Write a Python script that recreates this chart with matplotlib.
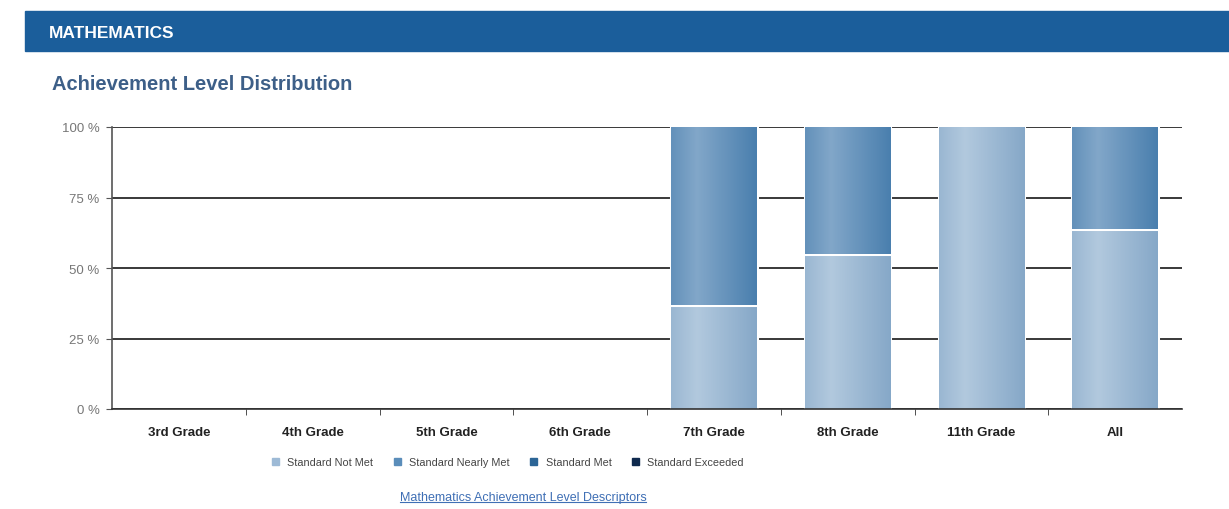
import matplotlib.pyplot as plt
import numpy as np
from matplotlib.colors import to_rgb
from matplotlib.patches import Rectangle

plt.rcParams['font.family'] = ['Liberation Sans', 'DejaVu Sans']

# ---- data ----
grades = ['3rd Grade', '4th Grade', '5th Grade', '6th Grade',
          '7th Grade', '8th Grade', '11th Grade', 'All']
not_met = [0, 0, 0, 0, 37, 55, 100, 64]
nearly_met = [0, 0, 0, 0, 63, 45, 0, 36]
met = [0, 0, 0, 0, 0, 0, 0, 0]
exceeded = [0, 0, 0, 0, 0, 0, 0, 0]
levels = ['Standard Not Met', 'Standard Nearly Met', 'Standard Met', 'Standard Exceeded']
colors = ['#9dbad6', '#5a8dba', '#2c6596', '#0f2a4e']
light = ['#b2c9de', '#82a7c9', '#4a7fb0', '#23446e']
dark = ['#86a8c8', '#4a7fae', '#205a8c', '#0b2042']

fig = plt.figure(figsize=(12.29, 5.1), dpi=100)

# header band
fig.patches.append(Rectangle((25 / 1229, 1 - 52 / 510), 1 - 25 / 1229, 40 / 510,
                             transform=fig.transFigure, color='#1b5e9b', zorder=0))
fig.text(49 / 1229, 1 - 33 / 510, 'MATHEMATICS', color='white', fontsize=12.5,
         fontweight='bold', va='center', ha='left')
fig.text(52 / 1229, 1 - 85 / 510, 'Achievement Level Distribution', color='#3d5f88',
         fontsize=14.5, fontweight='bold', va='center', ha='left')

ax = fig.add_axes([112 / 1229, 1 - 410 / 510, 1070 / 1229, 282 / 510])
x = np.arange(len(grades))
width = 0.64


def gradient_fill(ax, bars, c_light, c_dark):
    t = np.linspace(0, 1, 80)
    w = np.where(t < 0.3, 0.45 + 0.55 * (t / 0.3), 1 - (t - 0.3) / 0.7)
    l, d = np.array(to_rgb(c_light)), np.array(to_rgb(c_dark))
    row = d[None, :] + w[:, None] * (l - d)[None, :]
    img = np.repeat(row[None, :, :], 2, axis=0)
    for p in bars:
        if p.get_height() <= 0:
            continue
        x0, y0 = p.get_x(), p.get_y()
        im = ax.imshow(img, extent=[x0, x0 + p.get_width(), y0, y0 + p.get_height()],
                       aspect='auto', zorder=2, interpolation='bilinear')
        im.set_clip_path(p)


bottom = np.zeros(len(grades))
for vals, lab, col, cl, cd in zip([not_met, nearly_met, met, exceeded], levels, colors, light, dark):
    lw = [2.2 if v > 0 else 0 for v in vals]
    bars = ax.bar(x, vals, width, bottom=bottom, color=col, label=lab,
                  edgecolor='white', linewidth=lw, zorder=2)
    gradient_fill(ax, bars, cl, cd)
    bottom += np.array(vals)

ax.set_xlim(-0.5, len(grades) - 0.5)
ax.set_ylim(0, 100)
ax.set_yticks([0, 25, 50, 75, 100])
ax.set_yticklabels(['0 %', '25 %', '50 %', '75 %', '100 %'], color='#777777', fontsize=9.5)
ax.yaxis.grid(True, color='#2a2a2a', linewidth=1.3, zorder=0)
ax.set_axisbelow(True)
ax.set_xticks(x)
ax.set_xticklabels(grades, fontsize=9.5, fontweight='bold', color='#222222')
ax.tick_params(axis='x', length=0, pad=12)
ax.set_xticks(np.arange(0.5, len(grades) - 0.5, 1), minor=True)
ax.tick_params(axis='x', which='minor', length=4, color='#333333')
ax.tick_params(axis='y', length=4, color='#555555', pad=5)
for s in ['top', 'right']:
    ax.spines[s].set_visible(False)
ax.spines['left'].set_color('#555555')
ax.spines['bottom'].set_color('#333333')
ax.spines['left'].set_linewidth(1.2)
ax.spines['bottom'].set_linewidth(1.2)

handles = [Rectangle((0, 0), 1, 1, color=c) for c in colors]
fig.legend(handles, levels, loc='center', bbox_to_anchor=(508 / 1229, 1 - 463 / 510),
           ncol=4, frameon=False, fontsize=7.8, handlelength=0.6, handleheight=0.6,
           columnspacing=1.9, handletextpad=0.8, labelcolor='#444444')

link = fig.text(523 / 1229, 1 - 498 / 510, 'Mathematics Achievement Level Descriptors',
                color='#3f6fb5', fontsize=9, ha='center', va='center')
fig.canvas.draw()
bb = link.get_window_extent()
fig.add_artist(plt.Line2D([bb.x0 / fig.bbox.width, bb.x1 / fig.bbox.width],
                          [(bb.y0 + 1) / fig.bbox.height] * 2, color='#3f6fb5',
                          linewidth=0.8, transform=fig.transFigure))

fig.savefig('out.png', dpi=100)
